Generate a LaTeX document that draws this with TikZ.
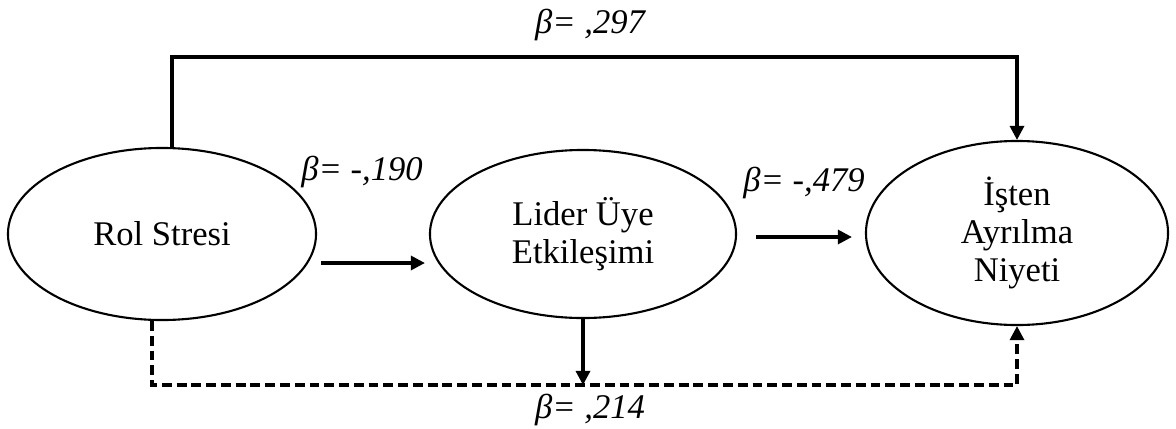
\documentclass[tikz,border=0pt]{standalone}
\usepackage{fontspec}
\setmainfont{Liberation Serif}
\usetikzlibrary{shapes.geometric,arrows.meta}
\begin{document}
\begin{tikzpicture}[x=0.025cm,y=-0.025cm,
  every node/.style={font=\fontsize{24.6}{27}\selectfont},
  oval/.style={ellipse,draw,line width=1.5pt,inner sep=0pt,align=center},
  conn/.style={line width=2.2pt,-{Triangle[length=10pt,width=10pt]}},
  dconn/.style={conn,dash pattern=on 7pt off 3.5pt},
  lbl/.style={font=\fontsize{24.6}{27}\selectfont\itshape}]
\useasboundingbox (0,0) rectangle (1176,428);
\node[oval,minimum width=7.7cm,minimum height=4.3cm] (rol) at (162,234) {Rol Stresi};
\node[oval,minimum width=7.65cm,minimum height=4.2cm] (lid) at (583,234) {Lider Üye\\Etkileşimi};
\node[oval,minimum width=7.55cm,minimum height=4.6cm] (niy) at (1017,233) {İşten\\Ayrılma\\Niyeti};
\coordinate (t) at (590,57);
\coordinate (b) at (590,385);
\draw[conn] ([xshift=0.25cm]rol.north) |- (t) -| (niy.north);
\draw[dconn] ([xshift=-0.25cm]rol.south) |- (b) -| (niy.south);
\draw[conn] (lid.south) -- (lid.south |- b);
\draw[conn] ([shift={(4,29)}]rol.east) -- ([shift={(-4,29)}]lid.west);
\draw[conn] ([shift={(19,3)}]lid.east) -- ([shift={(-13,4)}]niy.west);
\node[lbl] (l1) at (590,25) {β= ,297};
\node[lbl] (l2) at (362,172) {β= -,190};
\node[lbl] (l3) at (804,183) {β= -,479};
\node[lbl] (l4) at (590,410) {β= ,214};
\end{tikzpicture}
\end{document}
